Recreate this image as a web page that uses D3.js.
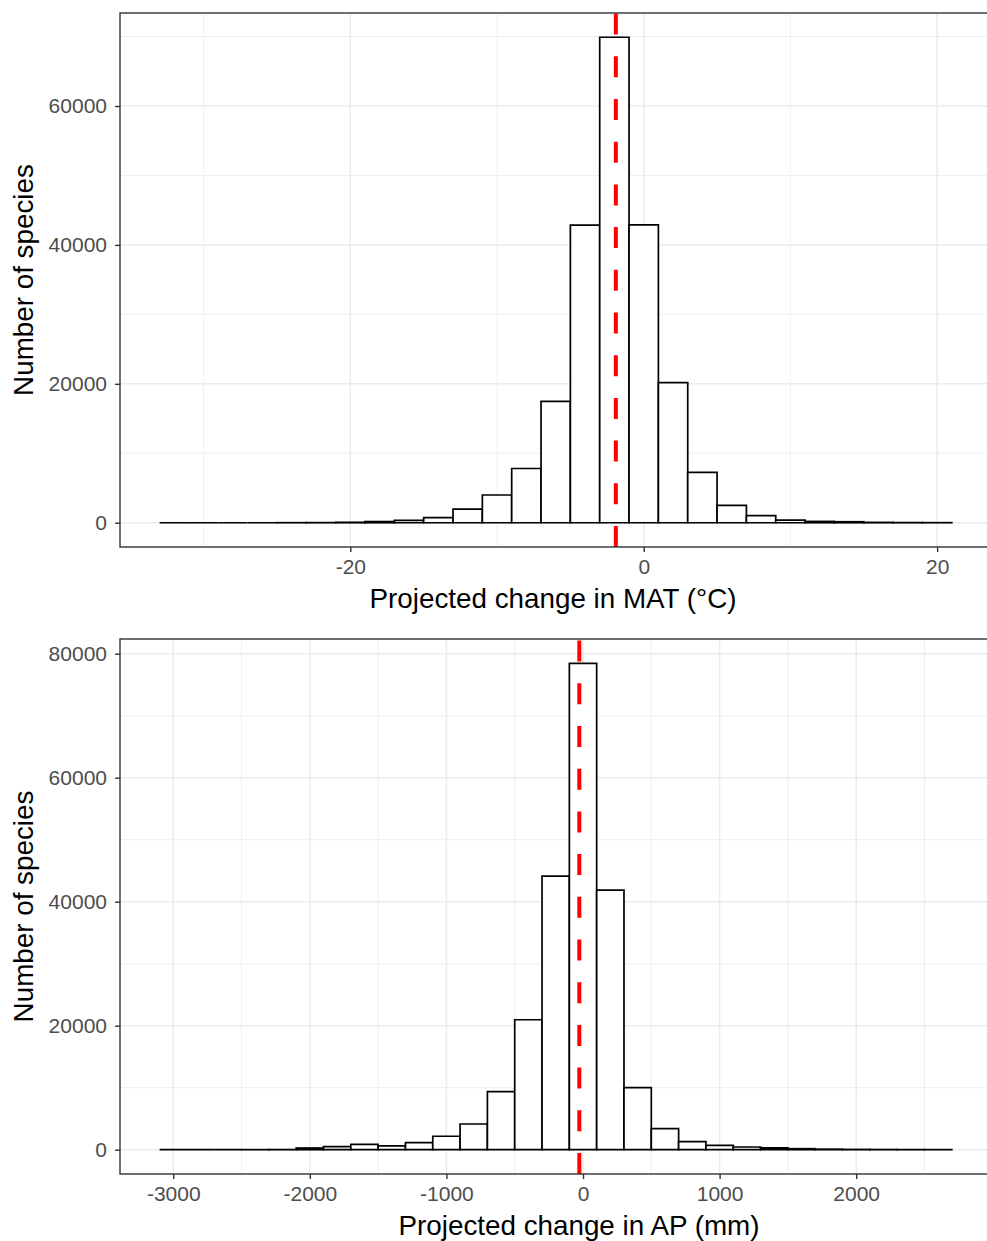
<!DOCTYPE html>
<html>
<head>
<meta charset="utf-8">
<script src="https://cdn.jsdelivr.net/npm/d3@7"></script>
<style>
  html, body { margin: 0; padding: 0; background: #fff; }
  svg { display: block; }
  text { font-family: "Liberation Sans", Arial, Helvetica, sans-serif; }
</style>
</head>
<body>
<script>
// Histogram of projected change in mean annual temperature (bins of 2 °C)
const matBinStarts = [-33, -31, -29, -27, -25, -23, -21, -19, -17, -15, -13, -11, -9, -7, -5,
                      -3, -1, 1, 3, 5, 7, 9, 11, 13, 15, 17, 19];
const matBinWidth = 2;
const matCounts = [0, 0, 0, 0, 5, 15, 60, 170, 350, 740, 1950, 3990, 7810, 17470, 42850,
                   69900, 42880, 20160, 7240, 2500, 1010, 380, 190, 140, 50, 20, 8];
const matMean = -1.9;
const matXTicks = [-20, 0, 20];
const matYTicks = [0, 20000, 40000, 60000];

// Histogram of projected change in annual precipitation (bins of 200 mm)
const apBinStarts = [-3100, -2900, -2700, -2500, -2300, -2100, -1900, -1700, -1500, -1300,
                     -1100, -900, -700, -500, -300, -100, 100, 300, 500, 700, 900, 1100,
                     1300, 1500, 1700, 1900, 2100, 2300, 2500];
const apBinWidth = 200;
const apCounts = [0, 0, 0, 5, 20, 270, 480, 860, 600, 1130, 2170, 4140, 9350, 20960, 44120,
                  78450, 41870, 10000, 3390, 1290, 710, 430, 300, 160, 80, 40, 25, 15, 10];
const apMean = -27;
const apXTicks = [-3000, -2000, -1000, 0, 1000, 2000];
const apYTicks = [0, 20000, 40000, 60000, 80000];

const W = 987, H = 1241;
const svg = d3.select("body").append("svg").attr("width", W).attr("height", H);

const TICK_FONT = 21, TITLE_FONT = 27.8;

function panel(opt) {
  const { top, bottom, left, right } = opt;
  const g = svg.append("g");
  const clipId = "clip" + opt.id;
  svg.append("clipPath").attr("id", clipId)
    .append("rect").attr("x", left).attr("y", top)
    .attr("width", right - left).attr("height", bottom - top);

  const bins = opt.starts.map((s, i) => ({ x0: s, x1: s + opt.width, n: opt.counts[i] }));
  const xmin = d3.min(bins, d => d.x0), xmax = d3.max(bins, d => d.x1);
  const xpad = (xmax - xmin) * 0.05;
  const nmax = d3.max(bins, d => d.n);
  const x = d3.scaleLinear().domain([xmin - xpad, xmax + xpad]).range([left, right]);
  const y = d3.scaleLinear().domain([-nmax * 0.05, nmax * 1.05]).range([bottom, top]);

  // minor + major grid lines
  const xStep = opt.xTicks[1] - opt.xTicks[0];
  const yStep = opt.yTicks[1] - opt.yTicks[0];
  const xMinor = d3.range(opt.xTicks[0] - xStep / 2, xmax + xpad, xStep).filter(v => v > xmin - xpad);
  const yMinor = d3.range(opt.yTicks[0] + yStep / 2, nmax * 1.05, yStep);
  const grid = g.append("g").attr("clip-path", `url(#${clipId})`);
  grid.selectAll(".xm").data(xMinor).join("line")
    .attr("x1", d => x(d)).attr("x2", d => x(d)).attr("y1", top).attr("y2", bottom)
    .attr("stroke", "#EBEBEB").attr("stroke-width", 0.8);
  grid.selectAll(".ym").data(yMinor).join("line")
    .attr("y1", d => y(d)).attr("y2", d => y(d)).attr("x1", left).attr("x2", right)
    .attr("stroke", "#EBEBEB").attr("stroke-width", 0.8);
  grid.selectAll(".xM").data(opt.xTicks).join("line")
    .attr("x1", d => x(d)).attr("x2", d => x(d)).attr("y1", top).attr("y2", bottom)
    .attr("stroke", "#EBEBEB").attr("stroke-width", 1.5);
  grid.selectAll(".yM").data(opt.yTicks).join("line")
    .attr("y1", d => y(d)).attr("y2", d => y(d)).attr("x1", left).attr("x2", right)
    .attr("stroke", "#EBEBEB").attr("stroke-width", 1.5);

  // histogram bars (paths, so empty bins still show their outline on the baseline)
  g.append("g").selectAll("path").data(bins).join("path")
    .attr("d", d => {
      const xa = x(d.x0), xb = x(d.x1), y0 = y(0), y1 = y(d.n);
      return `M${xa},${y0}V${y1}H${xb}V${y0}Z`;
    })
    .attr("fill", "#fff").attr("stroke", "#000").attr("stroke-width", 1.7)
    .attr("stroke-linejoin", "miter");

  // dashed mean line, dashes starting at the panel bottom
  g.append("line").attr("clip-path", `url(#${clipId})`)
    .attr("x1", x(opt.mean)).attr("x2", x(opt.mean))
    .attr("y1", bottom).attr("y2", top)
    .attr("stroke", "#FF0000").attr("stroke-width", 4)
    .attr("stroke-dasharray", "21 21.7");

  // panel border
  g.append("rect").attr("x", left).attr("y", top)
    .attr("width", right - left).attr("height", bottom - top)
    .attr("fill", "none").attr("stroke", "#333333").attr("stroke-width", 1.4);

  // axes
  const xAxis = g.append("g").attr("transform", `translate(0,${bottom})`)
    .call(d3.axisBottom(x).tickValues(opt.xTicks).tickSize(5).tickPadding(7).tickFormat(d3.format("d")));
  const yAxis = g.append("g").attr("transform", `translate(${left},0)`)
    .call(d3.axisLeft(y).tickValues(opt.yTicks).tickSize(5).tickPadding(8).tickFormat(d3.format("d")));
  [xAxis, yAxis].forEach(a => {
    a.select(".domain").remove();
    a.selectAll(".tick line").attr("stroke", "#333333").attr("stroke-width", 1.4);
    a.selectAll(".tick text").attr("fill", "#4D4D4D").style("font-size", TICK_FONT + "px")
      .style("font-family", '"Liberation Sans", Arial, sans-serif');
  });
  xAxis.selectAll(".tick text").text(d => d < 0 ? "-" + Math.abs(d) : String(d));

  // axis titles
  g.append("text").attr("x", opt.xTitleX).attr("y", bottom + 61)
    .attr("text-anchor", "middle").style("font-size", TITLE_FONT + "px").attr("fill", "#000")
    .text(opt.xTitle);
  g.append("text")
    .attr("transform", `translate(33,${(top + bottom) / 2}) rotate(-90)`)
    .attr("text-anchor", "middle").style("font-size", TITLE_FONT + "px").attr("fill", "#000")
    .text("Number of species");
}

panel({
  id: "mat", top: 13, bottom: 547, left: 120, right: 991.4,
  starts: matBinStarts, width: matBinWidth, counts: matCounts, mean: matMean,
  xTicks: matXTicks, yTicks: matYTicks, xTitle: "Projected change in MAT (°C)", xTitleX: 553
});
panel({
  id: "ap", top: 639, bottom: 1174, left: 120, right: 991.4,
  starts: apBinStarts, width: apBinWidth, counts: apCounts, mean: apMean,
  xTicks: apXTicks, yTicks: apYTicks, xTitle: "Projected change in AP (mm)", xTitleX: 579
});
</script>
</body>
</html>
